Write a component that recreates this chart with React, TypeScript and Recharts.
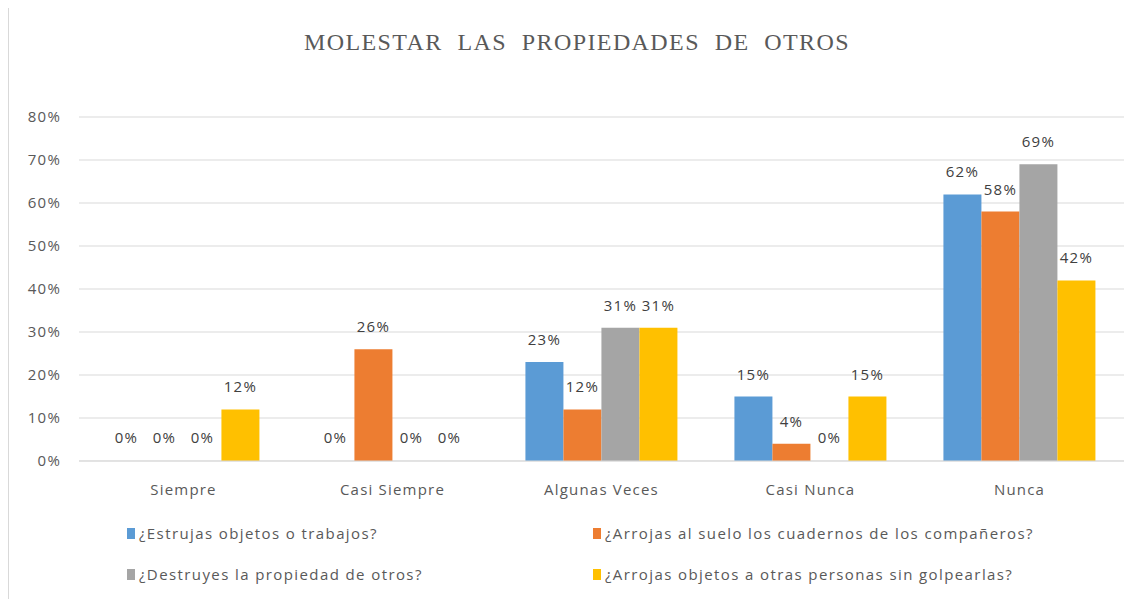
import React from 'react';
import { BarChart, Bar, XAxis, YAxis, CartesianGrid, LabelList, Cell } from 'recharts';

const categories = ['Siempre', 'Casi Siempre', 'Algunas Veces', 'Casi Nunca', 'Nunca'];
const seriesNames = [
  '¿Estrujas objetos o trabajos?',
  '¿Arrojas al suelo los cuadernos de los compañeros?',
  '¿Destruyes la propiedad de otros?',
  '¿Arrojas objetos a otras personas sin golpearlas?',
];
const estrujas = [0, 0, 23, 15, 62];
const arrojasSuelo = [0, 26, 12, 4, 58];
const destruyes = [0, 0, 31, 0, 69];
const arrojasObjetos = [12, 0, 31, 15, 42];
const yTicks = [0, 10, 20, 30, 40, 50, 60, 70, 80];

const COLORS = ['#5B9BD5', '#ED7D31', '#A5A5A5', '#FFC000'];
const FONT = '"Open Sans", sans-serif';
const SPACING = 1.2;
const seriesValues = [estrujas, arrojasSuelo, destruyes, arrojasObjetos];

const data = categories.map((c, i) => ({
  name: c,
  s0: estrujas[i],
  s1: arrojasSuelo[i],
  s2: destruyes[i],
  s3: arrojasObjetos[i],
}));

const pct = (v: number) => `${v}%`;

// etiqueta propia para que los 0% también se dibujen
const ValueLabel = ({ x, y, width, height, value }: any) => {
  const top = Math.min(Number(y), Number(y) + Number(height));
  return (
    <text
      x={Number(x) + Number(width) / 2}
      y={top - 17}
      fill="#404040"
      textAnchor="middle"
      fontSize={15}
      fontFamily={FONT}
      letterSpacing={SPACING}
    >
      {pct(value)}
    </text>
  );
};

export default function App() {
  return (
    <div
      style={{
        position: 'relative',
        width: 1136,
        height: 593,
        marginTop: -2,
        borderLeft: '1px solid #d9d9d9',
        borderTop: '1px solid #d9d9d9',
        background: '#fff',
        fontFamily: FONT,
      }}
    >
      <div
        style={{
          position: 'absolute',
          top: 22,
          left: 0,
          width: 1136,
          textAlign: 'center',
          fontFamily: '"Liberation Serif", serif',
          fontSize: 24,
          color: '#595959',
          whiteSpace: 'pre',
          letterSpacing: 1.4,
        }}
      >
        {'MOLESTAR  LAS  PROPIEDADES  DE  OTROS'}
      </div>
      <BarChart
        width={1135}
        height={592}
        data={data}
        margin={{ top: 110, right: 20, left: 10, bottom: 108 }}
        barCategoryGap="13.6%"
        barGap={0}
      >
        <CartesianGrid vertical={false} stroke="#d9d9d9" />
        <XAxis
          dataKey="name"
          axisLine={{ stroke: '#d9d9d9' }}
          tickLine={false}
          tickMargin={17}
          height={30}
          tick={{ fill: '#595959', fontSize: 15, fontFamily: FONT, letterSpacing: SPACING }}
        />
        <YAxis
          domain={[0, 80]}
          ticks={yTicks}
          tickFormatter={pct}
          axisLine={false}
          tickLine={false}
          tickMargin={12}
          width={60}
          tick={{ fill: '#595959', fontSize: 15, fontFamily: FONT, letterSpacing: SPACING }}
        />
        {['s0', 's1', 's2', 's3'].map((k, i) => (
          <Bar
            key={k}
            dataKey={k}
            name={seriesNames[i]}
            fill={COLORS[i]}
            minPointSize={1}
            isAnimationActive={false}
          >
            {seriesValues[i].map((v, j) => (
              <Cell key={j} fill={v === 0 ? 'transparent' : COLORS[i]} />
            ))}
            <LabelList dataKey={k} content={<ValueLabel />} />
          </Bar>
        ))}
      </BarChart>
      <div
        style={{
          position: 'absolute',
          left: 118,
          top: 515,
          display: 'grid',
          gridTemplateColumns: '466px 500px',
          rowGap: 19,
          fontSize: 15,
          color: '#595959',
          letterSpacing: 1.4,
        }}
      >
        {seriesNames.map((n, i) => (
          <div key={n} style={{ display: 'flex', alignItems: 'center', height: 22 }}>
            <span style={{ width: 8, height: 11, background: COLORS[i], marginRight: 4, display: 'inline-block' }} />
            <span>{n}</span>
          </div>
        ))}
      </div>
    </div>
  );
}
